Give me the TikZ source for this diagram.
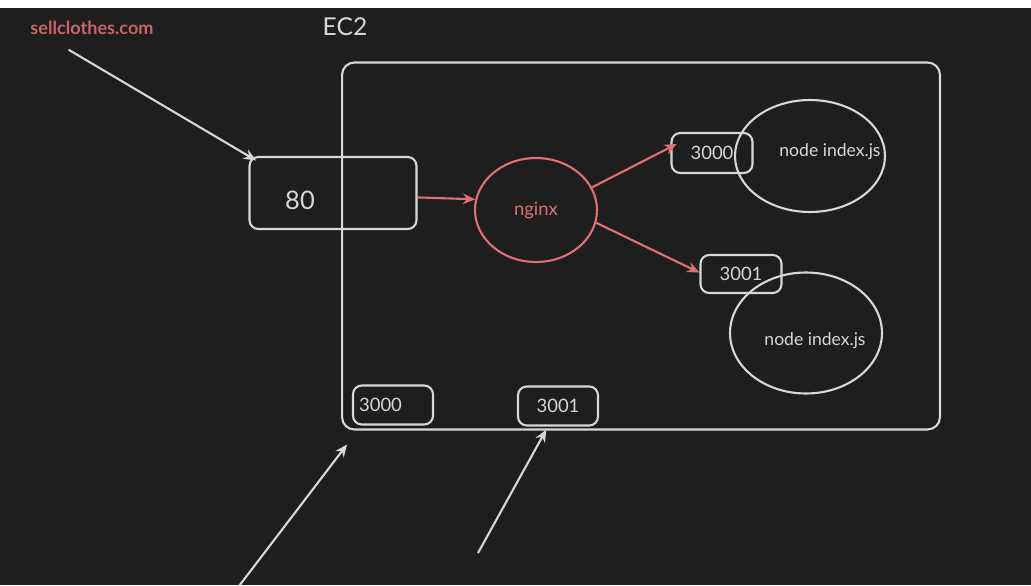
\documentclass[tikz,border=0pt]{standalone}
\usepackage{fontspec}
\setmainfont{Lato}
\usetikzlibrary{arrows.meta,positioning,calc,shapes.geometric}
\definecolor{board}{RGB}{30,30,30}
\definecolor{chalk}{RGB}{215,215,215}
\definecolor{salmon}{RGB}{226,112,112}
\begin{document}
\begin{tikzpicture}[x=0.02cm,y=-0.02cm,line width=1.2pt,
  box/.style={draw=chalk,rounded corners=5pt,inner sep=0pt,text=chalk,font=\fontsize{10.5}{12}\selectfont},
  oval/.style={draw=chalk,ellipse,inner sep=0pt},
  wire/.style={chalk,-{Stealth[length=7pt,width=6pt]}},
  hot/.style={salmon,-{Stealth[length=7pt,width=6pt]}}]
\useasboundingbox (0,0) rectangle (1031,585);
\fill[board] (0,0) rectangle (1031,585);
\fill[white] (0,0) rectangle (1031,8);
\node[text=salmon!90!black,font=\fontsize{10.3}{12}\selectfont\bfseries] (site) at (92,28) {sellclothes.com};
\node[text=chalk,font=\fontsize{14}{16}\selectfont] (title) at (345,27) {EC2};
\node[box,rounded corners=7pt,minimum width=11.96cm,minimum height=7.34cm] (ec2) at (641,246) {};
\node[box,minimum width=3.34cm,minimum height=1.44cm,label={[text=chalk,font=\fontsize{14.5}{16}\selectfont,xshift=-0.66cm,yshift=-0.14cm]center:80}] (p80) at (333,193) {};
\node[oval,draw=salmon,minimum width=2.44cm,minimum height=2.08cm,text=salmon,font=\fontsize{10.5}{12}\selectfont] (nginx) at (536,210) {nginx};
\node[box,minimum width=1.62cm,minimum height=0.8cm] (t3000) at (712,153) {\raisebox{-0.12cm}{3000}};
\node[box,minimum width=1.62cm,minimum height=0.76cm] (r3001) at (741,274) {\raisebox{-0.1cm}{3001}};
\node[oval,minimum width=3.0cm,minimum height=2.24cm,label={[text=chalk,font=\fontsize{10}{12}\selectfont,xshift=0.4cm,yshift=0.08cm]center:node index.js}] (app1) at (810,156) {};
\node[oval,minimum width=3.04cm,minimum height=2.42cm,label={[text=chalk,font=\fontsize{10}{12}\selectfont,xshift=0.18cm,yshift=-0.16cm]center:node index.js}] (app2) at (806,333) {};
\node[box,minimum width=1.6cm,minimum height=0.78cm] (b3000) at (393,405) {\hspace*{-0.5cm}\raisebox{-0.06cm}{3000}};
\node[box,minimum width=1.6cm,minimum height=0.78cm] (b3001) at (558,406) {3001};
\coordinate (tailA) at (236,590);
\coordinate (tailB) at (478,553);
\draw[wire,shorten >=-5pt] (site.south west) ++(45,8) coordinate (tailS) -- (p80.north west);
\draw[hot] (p80.-3) -- (nginx.170);
\draw[hot,shorten >=-4pt] (nginx.22) -- (t3000.172);
\draw[hot] (nginx.-12) -- (r3001.178);
\draw[wire] (tailA) -- ($(ec2.south west)+(6,14)$);
\draw[wire,shorten >=2pt] (tailB) -- (b3001.-116);
\end{tikzpicture}
\end{document}
